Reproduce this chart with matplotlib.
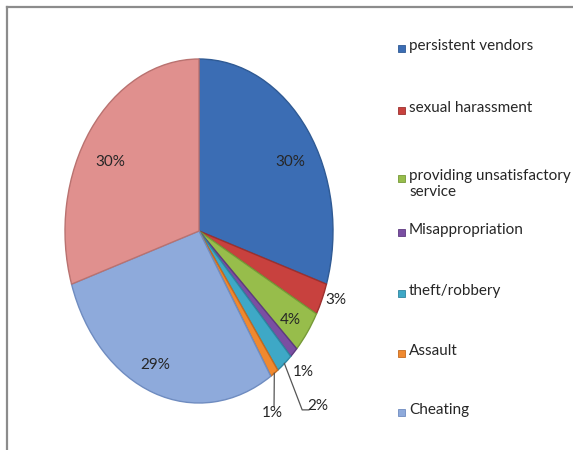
import matplotlib.pyplot as plt
import numpy as np
from matplotlib.lines import Line2D
from matplotlib.patches import Rectangle

# slice order: clockwise from 12 o'clock
categories = [
    "persistent vendors",
    "sexual harassment",
    "providing unsatisfactory\nservice",
    "Misappropriation",
    "theft/robbery",
    "Assault",
    "Cheating",
    "",
]
values = [30, 3, 4, 1, 2, 1, 29, 30]
colors = ["#3b6db4", "#c8413e", "#97bd4b", "#7a4fa2", "#3ea8c6",
          "#f0892f", "#8eaadb", "#e0908e"]
edges = ["#2f5a94", "#9c302e", "#769a37", "#5e3a80", "#2e85a0",
         "#c46a1f", "#6f8cc0", "#b97270"]

# label positions in pie units (x, y), pie radius = 1
label_pos = [(0.68, 0.40), (1.02, -0.40), (0.68, -0.52), (0.78, -0.82),
             (0.89, -1.02), (0.55, -1.06), (-0.33, -0.78), (-0.66, 0.40)]
# slices with leader lines: index -> corner of the line
leaders = {4: [(0.77, -1.04), (0.82, -1.04)], 5: [(0.56, -1.02)]}

plt.rcParams["font.family"] = ["Lato", "DejaVu Sans"]
text_color = "#262626"

fig = plt.figure(figsize=(5.73, 4.5), dpi=100)
W, H = 573, 450

# pie box in pixels: centre (199, 231), radii 134 x 172
cx, cy, rx, ry = 199, 231, 134, 172
ax = fig.add_axes([(cx - rx) / W, (H - cy - ry) / H, 2 * rx / W, 2 * ry / H])

wedges, _ = ax.pie(values, colors=colors, startangle=90, counterclock=False,
                   wedgeprops=dict(linewidth=1.0))
for w, ec in zip(wedges, edges):
    w.set_edgecolor(ec)

ax.set_aspect("auto")
ax.set_xlim(-1, 1)
ax.set_ylim(-1, 1)

for v, (lx, ly) in zip(values, label_pos):
    ax.text(lx, ly, f"{v}%", ha="center", va="center", fontsize=11,
            color=text_color, clip_on=False)

for i, pts in leaders.items():
    mid = np.deg2rad((wedges[i].theta1 + wedges[i].theta2) / 2)
    xs = [np.cos(mid)] + [p[0] for p in pts]
    ys = [np.sin(mid)] + [p[1] for p in pts]
    ax.plot(xs, ys, color="#555555", linewidth=0.9, clip_on=False)

# legend, hand placed like the Excel layout
legend_y = [48, 110, 178, 232, 293, 353, 412]
for name, color, ec, y in zip(categories[:-1], colors, edges, legend_y):
    fig.patches.append(Rectangle((398 / W, 1 - (y + 3.5) / H), 7 / W, 7 / H,
                                 facecolor=color, edgecolor=ec, linewidth=0.6,
                                 transform=fig.transFigure))
    fig.text(409 / W, 1 - (y - 9) / H, name, ha="left", va="top",
             fontsize=11, color=text_color, linespacing=1.2)

# chart border (left and top visible)
fig.lines.append(Line2D([7 / W, 7 / W], [0, 1 - 7 / H], color="#8c8c8c",
                        linewidth=1.6, transform=fig.transFigure))
fig.lines.append(Line2D([7 / W, 1], [1 - 7 / H, 1 - 7 / H], color="#8c8c8c",
                        linewidth=1.6, transform=fig.transFigure))

fig.savefig("out.png", dpi=100)
